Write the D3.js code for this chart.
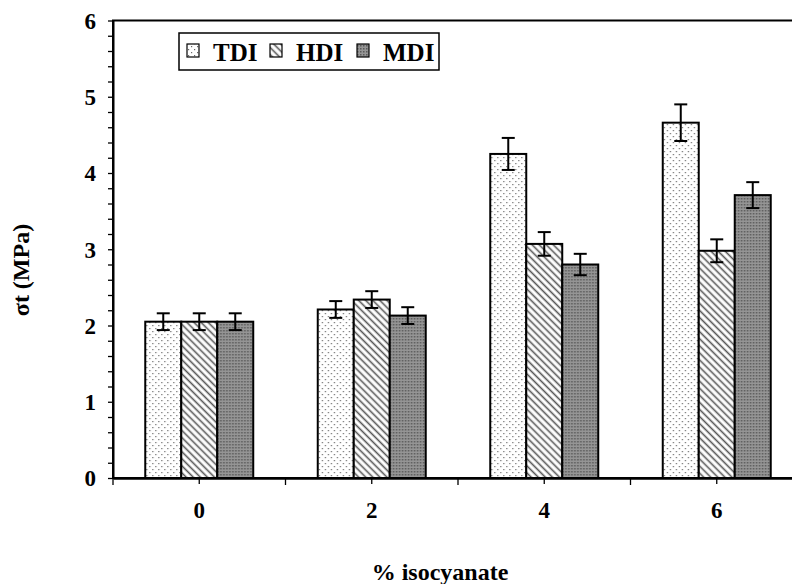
<!DOCTYPE html>
<html>
<head>
<meta charset="utf-8">
<script src="https://cdn.jsdelivr.net/npm/d3@7"></script>
<style>
  html, body { margin: 0; padding: 0; background: #fff; }
  svg { display: block; }
</style>
</head>
<body>
<svg id="chart" width="792" height="584"></svg>
<script>
// ---- data ----
const categories = ["0", "2", "4", "6"];
const seriesNames = ["TDI", "HDI", "MDI"];
const tdiValues = [2.05, 2.21, 4.25, 4.66];
const hdiValues = [2.05, 2.34, 3.07, 2.98];
const mdiValues = [2.05, 2.13, 2.80, 3.71];
const tdiErrors = [0.11, 0.11, 0.21, 0.24];
const hdiErrors = [0.11, 0.11, 0.155, 0.15];
const mdiErrors = [0.11, 0.11, 0.14, 0.17];
const yTickLabels = [0, 1, 2, 3, 4, 5, 6];
const xTitle = "% isocyanate";
const yTitle = "σt (MPa)";

const valuesBySeries = { TDI: tdiValues, HDI: hdiValues, MDI: mdiValues };
const errorsBySeries = { TDI: tdiErrors, HDI: hdiErrors, MDI: mdiErrors };
const patternIds = { TDI: "pTDI", HDI: "pHDI", MDI: "pMDI" };

const FONT = "'Liberation Serif', 'Times New Roman', serif";
const svg = d3.select("#chart");
const margin = { left: 113, top: 20.5, right: 803, bottom: 478 };

// ---- patterns ----
const defs = svg.append("defs");
const p1 = defs.append("pattern").attr("id", "pTDI").attr("patternUnits", "userSpaceOnUse")
  .attr("width", 6).attr("height", 6);
p1.append("rect").attr("width", 6).attr("height", 6).attr("fill", "#fff");
p1.append("rect").attr("x", 1).attr("y", 1).attr("width", 1.2).attr("height", 1.2).attr("fill", "#6a6a6a");
p1.append("rect").attr("x", 4).attr("y", 4).attr("width", 1.2).attr("height", 1.2).attr("fill", "#6a6a6a");
const p2 = defs.append("pattern").attr("id", "pHDI").attr("patternUnits", "userSpaceOnUse")
  .attr("width", 5).attr("height", 5).attr("patternTransform", "rotate(-45)");
p2.append("rect").attr("width", 5).attr("height", 5).attr("fill", "#fff");
p2.append("line").attr("x1", 1.5).attr("y1", 0).attr("x2", 1.5).attr("y2", 5)
  .attr("stroke", "#555").attr("stroke-width", 1.6);
const p3 = defs.append("pattern").attr("id", "pMDI").attr("patternUnits", "userSpaceOnUse")
  .attr("width", 3).attr("height", 3);
p3.append("rect").attr("width", 3).attr("height", 3).attr("fill", "#959595");
p3.append("rect").attr("x", 0).attr("y", 0).attr("width", 1.5).attr("height", 1.5).attr("fill", "#5a5a5a");

// ---- scales ----
const x0 = d3.scaleBand().domain(categories).range([margin.left, margin.right])
  .paddingInner(0.374).paddingOuter(0.187);
const x1 = d3.scaleBand().domain(seriesNames).range([0, x0.bandwidth()]);
const y = d3.scaleLinear().domain([0, 6]).range([margin.bottom, margin.top]);

// ---- frame ----
svg.append("rect")
  .attr("x", margin.left).attr("y", margin.top)
  .attr("width", margin.right - margin.left).attr("height", margin.bottom - margin.top)
  .attr("fill", "none").attr("stroke", "#000").attr("stroke-width", 2);

// ---- bars ----
const groups = svg.append("g").selectAll("g").data(categories).join("g")
  .attr("transform", d => `translate(${x0(d)},0)`);
const rowData = (c, i) => seriesNames.map(s => ({ s, v: valuesBySeries[s][i], e: errorsBySeries[s][i] }));

groups.selectAll("rect.bar").data(rowData).join("rect").attr("class", "bar")
  .attr("x", d => x1(d.s))
  .attr("y", d => y(d.v))
  .attr("width", x1.bandwidth())
  .attr("height", d => y(0) - y(d.v))
  .attr("fill", d => `url(#${patternIds[d.s]})`)
  .attr("stroke", "#000").attr("stroke-width", 2);

// ---- error bars ----
const capW = 13;
const cx = d => x1(d.s) + x1.bandwidth() / 2;
const eb = groups.selectAll("g.err").data(rowData).join("g").attr("class", "err")
  .attr("stroke", "#000").attr("stroke-width", 2);
eb.append("line").attr("x1", cx).attr("x2", cx)
  .attr("y1", d => y(d.v + d.e)).attr("y2", d => y(d.v - d.e));
eb.append("line").attr("x1", d => cx(d) - capW / 2).attr("x2", d => cx(d) + capW / 2)
  .attr("y1", d => y(d.v + d.e)).attr("y2", d => y(d.v + d.e));
eb.append("line").attr("x1", d => cx(d) - capW / 2).attr("x2", d => cx(d) + capW / 2)
  .attr("y1", d => y(d.v - d.e)).attr("y2", d => y(d.v - d.e));

// ---- y axis ----
const yAxis = d3.axisLeft(y)
  .tickValues(d3.range(0, 31).map(k => k / 5))
  .tickSize(5).tickSizeOuter(0).tickPadding(12)
  .tickFormat(d => yTickLabels.includes(Math.round(d * 1000) / 1000) ? d3.format("d")(d) : "");
const gy = svg.append("g").attr("transform", `translate(${margin.left},0)`).call(yAxis);
gy.select(".domain").attr("stroke-width", 2);
gy.selectAll(".tick line").attr("stroke-width", 1.3);
gy.selectAll("text").style("font-family", FONT).style("font-weight", "bold")
  .style("font-size", "23px").attr("dy", "0.34em");

// ---- x axis ----
const xAxis = d3.axisBottom(x0).tickSize(6).tickSizeOuter(0).tickPadding(18);
const gx = svg.append("g").attr("transform", `translate(0,${margin.bottom})`).call(xAxis);
gx.select(".domain").attr("stroke-width", 2.5);
gx.selectAll(".tick line").attr("stroke-width", 1.3);
gx.selectAll("text").style("font-family", FONT).style("font-weight", "bold").style("font-size", "23px");
const sepPositions = d3.range(categories.length + 1).map(k => margin.left + k * x0.step());
gx.selectAll("line.sep").data(sepPositions).join("line").attr("class", "sep")
  .attr("x1", d => d).attr("x2", d => d).attr("y1", 0).attr("y2", 7)
  .attr("stroke", "#000").attr("stroke-width", 1.3);

// ---- axis titles ----
svg.append("text").attr("x", 440).attr("y", 580).attr("text-anchor", "middle")
  .style("font-family", FONT).style("font-weight", "bold").style("font-size", "24px").text(xTitle);
svg.append("text").attr("transform", "translate(29,270) rotate(-90)").attr("text-anchor", "middle")
  .style("font-family", FONT).style("font-weight", "bold").style("font-size", "24px").text(yTitle);

// ---- legend ----
const lg = svg.append("g");
lg.append("rect").attr("x", 179).attr("y", 33).attr("width", 260).attr("height", 37)
  .attr("fill", "#fff").attr("stroke", "#000").attr("stroke-width", 1.5);
const legendX = [187, 270, 357];
const items = lg.selectAll("g.item").data(seriesNames).join("g").attr("class", "item")
  .attr("transform", (d, i) => `translate(${legendX[i]},0)`);
items.append("rect").attr("x", 0).attr("y", 44).attr("width", 12).attr("height", 13)
  .attr("fill", d => `url(#${patternIds[d]})`).attr("stroke", "#000").attr("stroke-width", 1.2);
items.append("text").attr("x", 26).attr("y", 60.5)
  .style("font-family", FONT).style("font-weight", "bold").style("font-size", "25px").text(d => d);
</script>
</body>
</html>
